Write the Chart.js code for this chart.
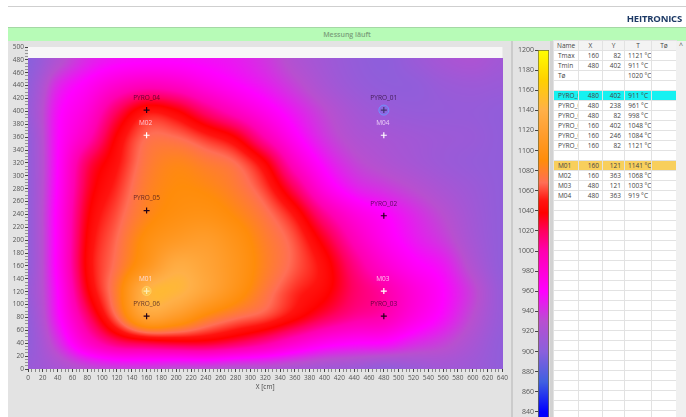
<!DOCTYPE html>
<html>
<head>
<meta charset="utf-8">
<title>Messung</title>
<script src="https://cdn.jsdelivr.net/npm/chart.js@4"></script>
<style>
html,body{margin:0;padding:0;background:#fff;width:686px;height:417px;overflow:hidden;font-family:"Open Sans",sans-serif;}
#page{position:relative;width:686px;height:417px;overflow:hidden;filter:blur(0.35px);}
#topline{position:absolute;left:8px;right:0;top:6px;height:1px;background:#cfcfcf;}
#logo{position:absolute;right:4px;top:12px;font-size:9.5px;font-weight:700;color:#1d3a66;letter-spacing:-0.2px;}
#status{position:absolute;left:8px;right:0;top:27px;height:14px;line-height:14px;background:#b7fbb7;border-top:1px solid #a5d8a5;box-sizing:border-box;text-align:center;font-size:7px;font-weight:600;color:#7b9f7b;}
#panel{position:absolute;left:8px;right:0;top:41px;bottom:0;background:#e3e3e3;}
#sep1{position:absolute;left:511px;top:41px;bottom:0;width:2px;background:#cbcbcb;}
#sep2{position:absolute;left:550px;top:41px;bottom:0;width:3px;background:#d2d2d2;}
#heat{position:absolute;left:8px;top:41px;}
#bar{position:absolute;left:510px;top:41px;}
#tbl{position:absolute;left:553px;top:40px;width:123px;border-collapse:collapse;table-layout:fixed;background:#fff;font-size:6.5px;color:#444;}
#tbl td,#tbl th{height:10px;line-height:9px;padding:0 3px;box-sizing:border-box;border:1px solid #e2e2e2;overflow:hidden;white-space:nowrap;text-align:right;font-weight:400;}
#tbl th{text-align:center;background:#f3f3f3;height:10px;}
#tbl td.n{text-align:left;padding-left:4px;padding-right:0;text-overflow:clip;}
#scroll{position:absolute;left:676px;top:41px;bottom:0;width:10px;background:#f0f0f0;text-align:center;font-size:7px;color:#555;line-height:9px;}
</style>
</head>
<body>
<div id="page">
  <div id="topline"></div>
  <div id="logo">HEITRONICS</div>
  <div id="status">Messung läuft</div>
  <div id="panel"></div>
  <div id="sep1"></div>
  <div id="sep2"></div>
  <canvas id="heat" width="502" height="376"></canvas>
  <canvas id="bar" width="43" height="400"></canvas>
  <table id="tbl"></table>
  <div id="scroll">^</div>
</div>
<script>
// temperature, one row per y value
const gridX = [0, 40, 80, 120, 160, 200, 240, 280, 320, 360, 400, 440, 480, 520, 560, 600, 640];
const gridY = [480, 440, 400, 360, 320, 280, 240, 200, 160, 120, 80, 40, 0];
const temps = [
    [900, 925, 945, 955, 958, 958, 955, 950, 940, 925, 915, 907, 903, 910, 918, 922, 915],
    [905, 945, 965, 985, 995, 990, 975, 962, 950, 935, 920, 910, 905, 905, 910, 912, 910],
    [908, 955, 980, 1020, 1048, 1040, 1015, 992, 970, 950, 932, 918, 911, 908, 908, 908, 905],
    [905, 958, 995, 1040, 1068, 1068, 1055, 1038, 1000, 965, 940, 925, 919, 915, 912, 910, 905],
    [905, 960, 1020, 1048, 1075, 1085, 1078, 1068, 1040, 990, 955, 935, 925, 918, 912, 908, 905],
    [905, 962, 1028, 1055, 1080, 1090, 1088, 1078, 1058, 1020, 975, 950, 940, 930, 920, 912, 905],
    [905, 965, 1035, 1062, 1084, 1095, 1098, 1088, 1072, 1048, 1008, 978, 961, 945, 930, 915, 905],
    [905, 965, 1040, 1068, 1095, 1110, 1115, 1100, 1080, 1062, 1032, 996, 970, 952, 938, 918, 905],
    [905, 965, 1042, 1072, 1105, 1135, 1125, 1105, 1082, 1064, 1045, 1012, 985, 965, 952, 925, 905],
    [908, 960, 1035, 1080, 1141, 1145, 1125, 1100, 1075, 1055, 1042, 1018, 1003, 980, 960, 935, 908],
    [905, 955, 1015, 1068, 1121, 1110, 1085, 1070, 1060, 1042, 1022, 1006, 998, 975, 955, 930, 908],
    [905, 940, 985, 1015, 1025, 1030, 1030, 1020, 1005, 985, 968, 960, 958, 945, 935, 920, 905],
    [910, 920, 930, 935, 935, 930, 930, 925, 925, 920, 915, 912, 905, 910, 915, 912, 905]
];

// colour bar
const barValues = [840, 870, 900, 930, 960, 1000, 1020, 1038, 1050, 1068, 1090, 1120, 1140, 1170, 1200];
const barColors = [[0, 0, 255], [64, 96, 224], [138, 96, 220], [184, 79, 208], [255, 0, 255], [255, 0, 175], [255, 0, 95], [255, 0, 0], [255, 20, 15],
    [255, 110, 85], [255, 140, 10], [255, 160, 50], [255, 176, 72], [255, 208, 0], [255, 255, 0]];

// measuring points
const pyroNames = ['PYRO_01', 'PYRO_02', 'PYRO_03', 'PYRO_04', 'PYRO_05', 'PYRO_06'];
const pyroX = [480, 480, 480, 160, 160, 160];
const pyroY = [402, 238, 82, 402, 246, 82];
const pyroT = [911, 961, 998, 1048, 1084, 1121];
const markNames = ['M01', 'M02', 'M03', 'M04'];
const markX = [160, 160, 480, 480];
const markY = [121, 363, 121, 363];
const markT = [1141, 1068, 1003, 919];

const tableHead = ['Name', 'X', 'Y', 'T', 'Tø'];
const colWidths = [25, 24, 22, 27, 25];
const tableRowsCount = 38;

function colorFor(v) {
    if (v <= barValues[0]) return barColors[0];
    for (var i = 1; i < barValues.length; i++) {
        if (v <= barValues[i]) {
            var f = (v - barValues[i - 1]) / (barValues[i] - barValues[i - 1]);
            var a = barColors[i - 1], b = barColors[i];
            return [a[0] + (b[0] - a[0]) * f, a[1] + (b[1] - a[1]) * f, a[2] + (b[2] - a[2]) * f];
        }
    }
    return barColors[barColors.length - 1];
}

// same smooth shading the instrument software uses between cells
function cubic(p0, p1, p2, p3, t) {
    return p1 + 0.5 * t * (p2 - p0 + t * (2 * p0 - 5 * p1 + 4 * p2 - p3 + t * (3 * (p1 - p2) + p3 - p0)));
}
function at(r, c) {
    r = Math.max(0, Math.min(gridY.length - 1, r));
    c = Math.max(0, Math.min(gridX.length - 1, c));
    return temps[r][c];
}
function sample(xv, yv) {
    var cf = Math.max(0, Math.min(gridX.length - 1.001, xv / 40));
    var rf = Math.max(0, Math.min(gridY.length - 1.001, (480 - yv) / 40));
    var c = Math.floor(cf), r = Math.floor(rf), col = [];
    for (var k = -1; k <= 2; k++) {
        col.push(cubic(at(r + k, c - 1), at(r + k, c), at(r + k, c + 1), at(r + k, c + 2), cf - c));
    }
    return cubic(col[0], col[1], col[2], col[3], rf - r);
}

const heatPlugin = {
    id: 'heatPlugin',
    beforeDatasetsDraw(chart) {
        const a = chart.chartArea, sx = chart.scales.x, sy = chart.scales.y, ctx = chart.ctx;
        ctx.save();
        ctx.fillStyle = '#f7f7f7';
        ctx.fillRect(a.left, a.top, a.width, a.height);
        const top = Math.round(sy.getPixelForValue(483));
        const w = Math.ceil(a.width), h = Math.ceil(a.bottom - top);
        const img = ctx.createImageData(w, h);
        for (var py = 0; py < h; py++) {
            for (var px = 0; px < w; px++) {
                var c = colorFor(sample(sx.getValueForPixel(a.left + px + 0.5), sy.getValueForPixel(top + py + 0.5)));
                var i = (py * w + px) * 4;
                img.data[i] = c[0]; img.data[i + 1] = c[1]; img.data[i + 2] = c[2]; img.data[i + 3] = 255;
            }
        }
        ctx.putImageData(img, Math.round(a.left), top);
        ctx.restore();
    }
};

const labelPlugin = {
    id: 'labelPlugin',
    afterDatasetsDraw(chart) {
        const sx = chart.scales.x, sy = chart.scales.y, ctx = chart.ctx;
        ctx.save();
        ctx.font = '6.5px "Open Sans"';
        ctx.textAlign = 'center';
        ctx.textBaseline = 'middle';
        ctx.fillStyle = 'rgba(30,0,30,0.7)';
        pyroNames.forEach(function (n, i) {
            ctx.fillText(n, sx.getPixelForValue(pyroX[i]), sy.getPixelForValue(pyroY[i]) - 12);
        });
        ctx.fillStyle = 'rgba(255,235,255,0.8)';
        markNames.forEach(function (n, i) {
            ctx.fillText(n, sx.getPixelForValue(markX[i]) - 1, sy.getPixelForValue(markY[i]) - 12);
        });
        ctx.restore();
    }
};

function points(xs, ys) {
    return xs.map(function (x, i) { return { x: x, y: ys[i] }; });
}

function axisTicks(value) {
    return value % 20 === 0 ? String(value) : '';
}

new Chart(document.getElementById('heat'), {
    type: 'scatter',
    data: {
        datasets: [
            { label: 'Tmin', data: [{ x: pyroX[0], y: pyroY[0] }], pointStyle: 'circle', pointRadius: 5, backgroundColor: 'rgba(120,120,240,0.4)', borderColor: 'rgba(110,150,255,0.9)', borderWidth: 1 },
            { label: 'Max', data: [{ x: markX[0], y: markY[0] }], pointStyle: 'circle', pointRadius: 4.5, backgroundColor: 'rgba(250,215,90,0.45)', borderColor: 'rgba(255,225,120,0.6)', borderWidth: 1 },
            { label: 'PYRO', data: points(pyroX, pyroY), pointStyle: 'cross', pointRadius: 3, borderColor: '#200018', borderWidth: 1.2, backgroundColor: '#200018' },
            { label: 'M', data: points(markX, markY), pointStyle: 'cross', pointRadius: 3, borderColor: '#fff', borderWidth: 1.2, backgroundColor: '#fff' }
        ]
    },
    options: {
        responsive: false,
        animation: false,
        devicePixelRatio: 1,
        layout: { padding: { top: 4, right: 7, left: 0, bottom: 26 } },
        plugins: { legend: { display: false }, title: { display: false }, tooltip: { enabled: false } },
        scales: {
            x: {
                type: 'linear', min: 0, max: 640,
                ticks: { stepSize: 5, autoSkip: false, maxRotation: 0, padding: 2, color: '#555', font: { family: 'Open Sans', size: 6.5 }, callback: axisTicks },
                grid: { drawOnChartArea: false, tickLength: 3, tickColor: '#444', tickWidth: function (c) { return c.tick && c.tick.value % 20 === 0 ? 1 : 0.6; } },
                border: { display: false },
                title: { display: true, text: 'X [cm]', color: '#444', font: { family: 'Open Sans', size: 6.5 }, padding: { top: 2, bottom: 0 } },
                afterFit: function (s) { s.height = 22; }
            },
            y: {
                type: 'linear', min: 0, max: 500,
                ticks: { stepSize: 5, autoSkip: false, padding: 1, color: '#555', font: { family: 'Open Sans', size: 6.5 }, callback: axisTicks },
                grid: { drawOnChartArea: false, tickLength: 3, tickColor: '#444', tickWidth: function (c) { return c.tick && c.tick.value % 20 === 0 ? 1 : 0.5; } },
                border: { display: false },
                afterFit: function (s) { s.width = 20; }
            }
        }
    },
    plugins: [heatPlugin, labelPlugin]
});

new Chart(document.getElementById('bar'), {
    type: 'bar',
    data: {
        labels: [''],
        datasets: [{
            data: [[820, 1200]],
            barPercentage: 1,
            categoryPercentage: 1,
            borderWidth: 1,
            borderColor: '#6b6b3a',
            borderSkipped: false,
            backgroundColor: function (c) {
                const a = c.chart.chartArea, sy = c.chart.scales.y;
                if (!a) return '#f00';
                const g = c.chart.ctx.createLinearGradient(0, a.top, 0, a.bottom);
                const range = a.bottom - a.top;
                barValues.forEach(function (v, i) {
                    const col = barColors[i];
                    g.addColorStop((sy.getPixelForValue(v) - a.top) / range, 'rgb(' + col.join(',') + ')');
                });
                return g;
            }
        }]
    },
    options: {
        responsive: false,
        animation: false,
        devicePixelRatio: 1,
        layout: { padding: { top: 9, right: 4, left: 0, bottom: 9 } },
        plugins: { legend: { display: false }, tooltip: { enabled: false } },
        scales: {
            x: { display: false },
            y: {
                min: 820, max: 1200,
                ticks: { stepSize: 20, autoSkip: false, padding: 1, color: '#555', font: { family: 'Open Sans', size: 7 }, callback: function (v) { return String(v); } },
                grid: { drawOnChartArea: false, tickLength: 3, tickColor: '#444' },
                border: { display: false },
                afterFit: function (s) { s.width = 28; }
            }
        }
    }
});

// table next to the colour bar
function cell(text, cls) {
    return '<td' + (cls ? ' class="' + cls + '"' : '') + '>' + text + '</td>';
}
function row(name, x, y, t, bg) {
    return '<tr' + (bg ? ' style="background:' + bg + '"' : '') + '>' + cell(name, 'n') + cell(x) + cell(y) + cell(t === '' ? '' : t + ' °C') + cell('') + '</tr>';
}
var html = '<colgroup>' + colWidths.map(function (w) { return '<col style="width:' + w + 'px">'; }).join('') + '</colgroup>';
html += '<tr>' + tableHead.map(function (h) { return '<th>' + h + '</th>'; }).join('') + '</tr>';
html += row('Tmax', 160, 82, 1121);
html += row('Tmin', 480, 402, 911);
html += row('Tø', '', '', 1020);
html += row('', '', '', '');
pyroNames.forEach(function (n, i) {
    html += row(n, pyroX[i], pyroY[i], pyroT[i], i === 0 ? '#17f1f1' : '');
});
html += row('', '', '', '');
markNames.forEach(function (n, i) {
    html += row(n, markX[i], markY[i], markT[i], i === 0 ? '#f8cf5c' : '');
});
for (var i = 16; i < tableRowsCount; i++) html += row('', '', '', '');
document.getElementById('tbl').innerHTML = html;
</script>
</body>
</html>
